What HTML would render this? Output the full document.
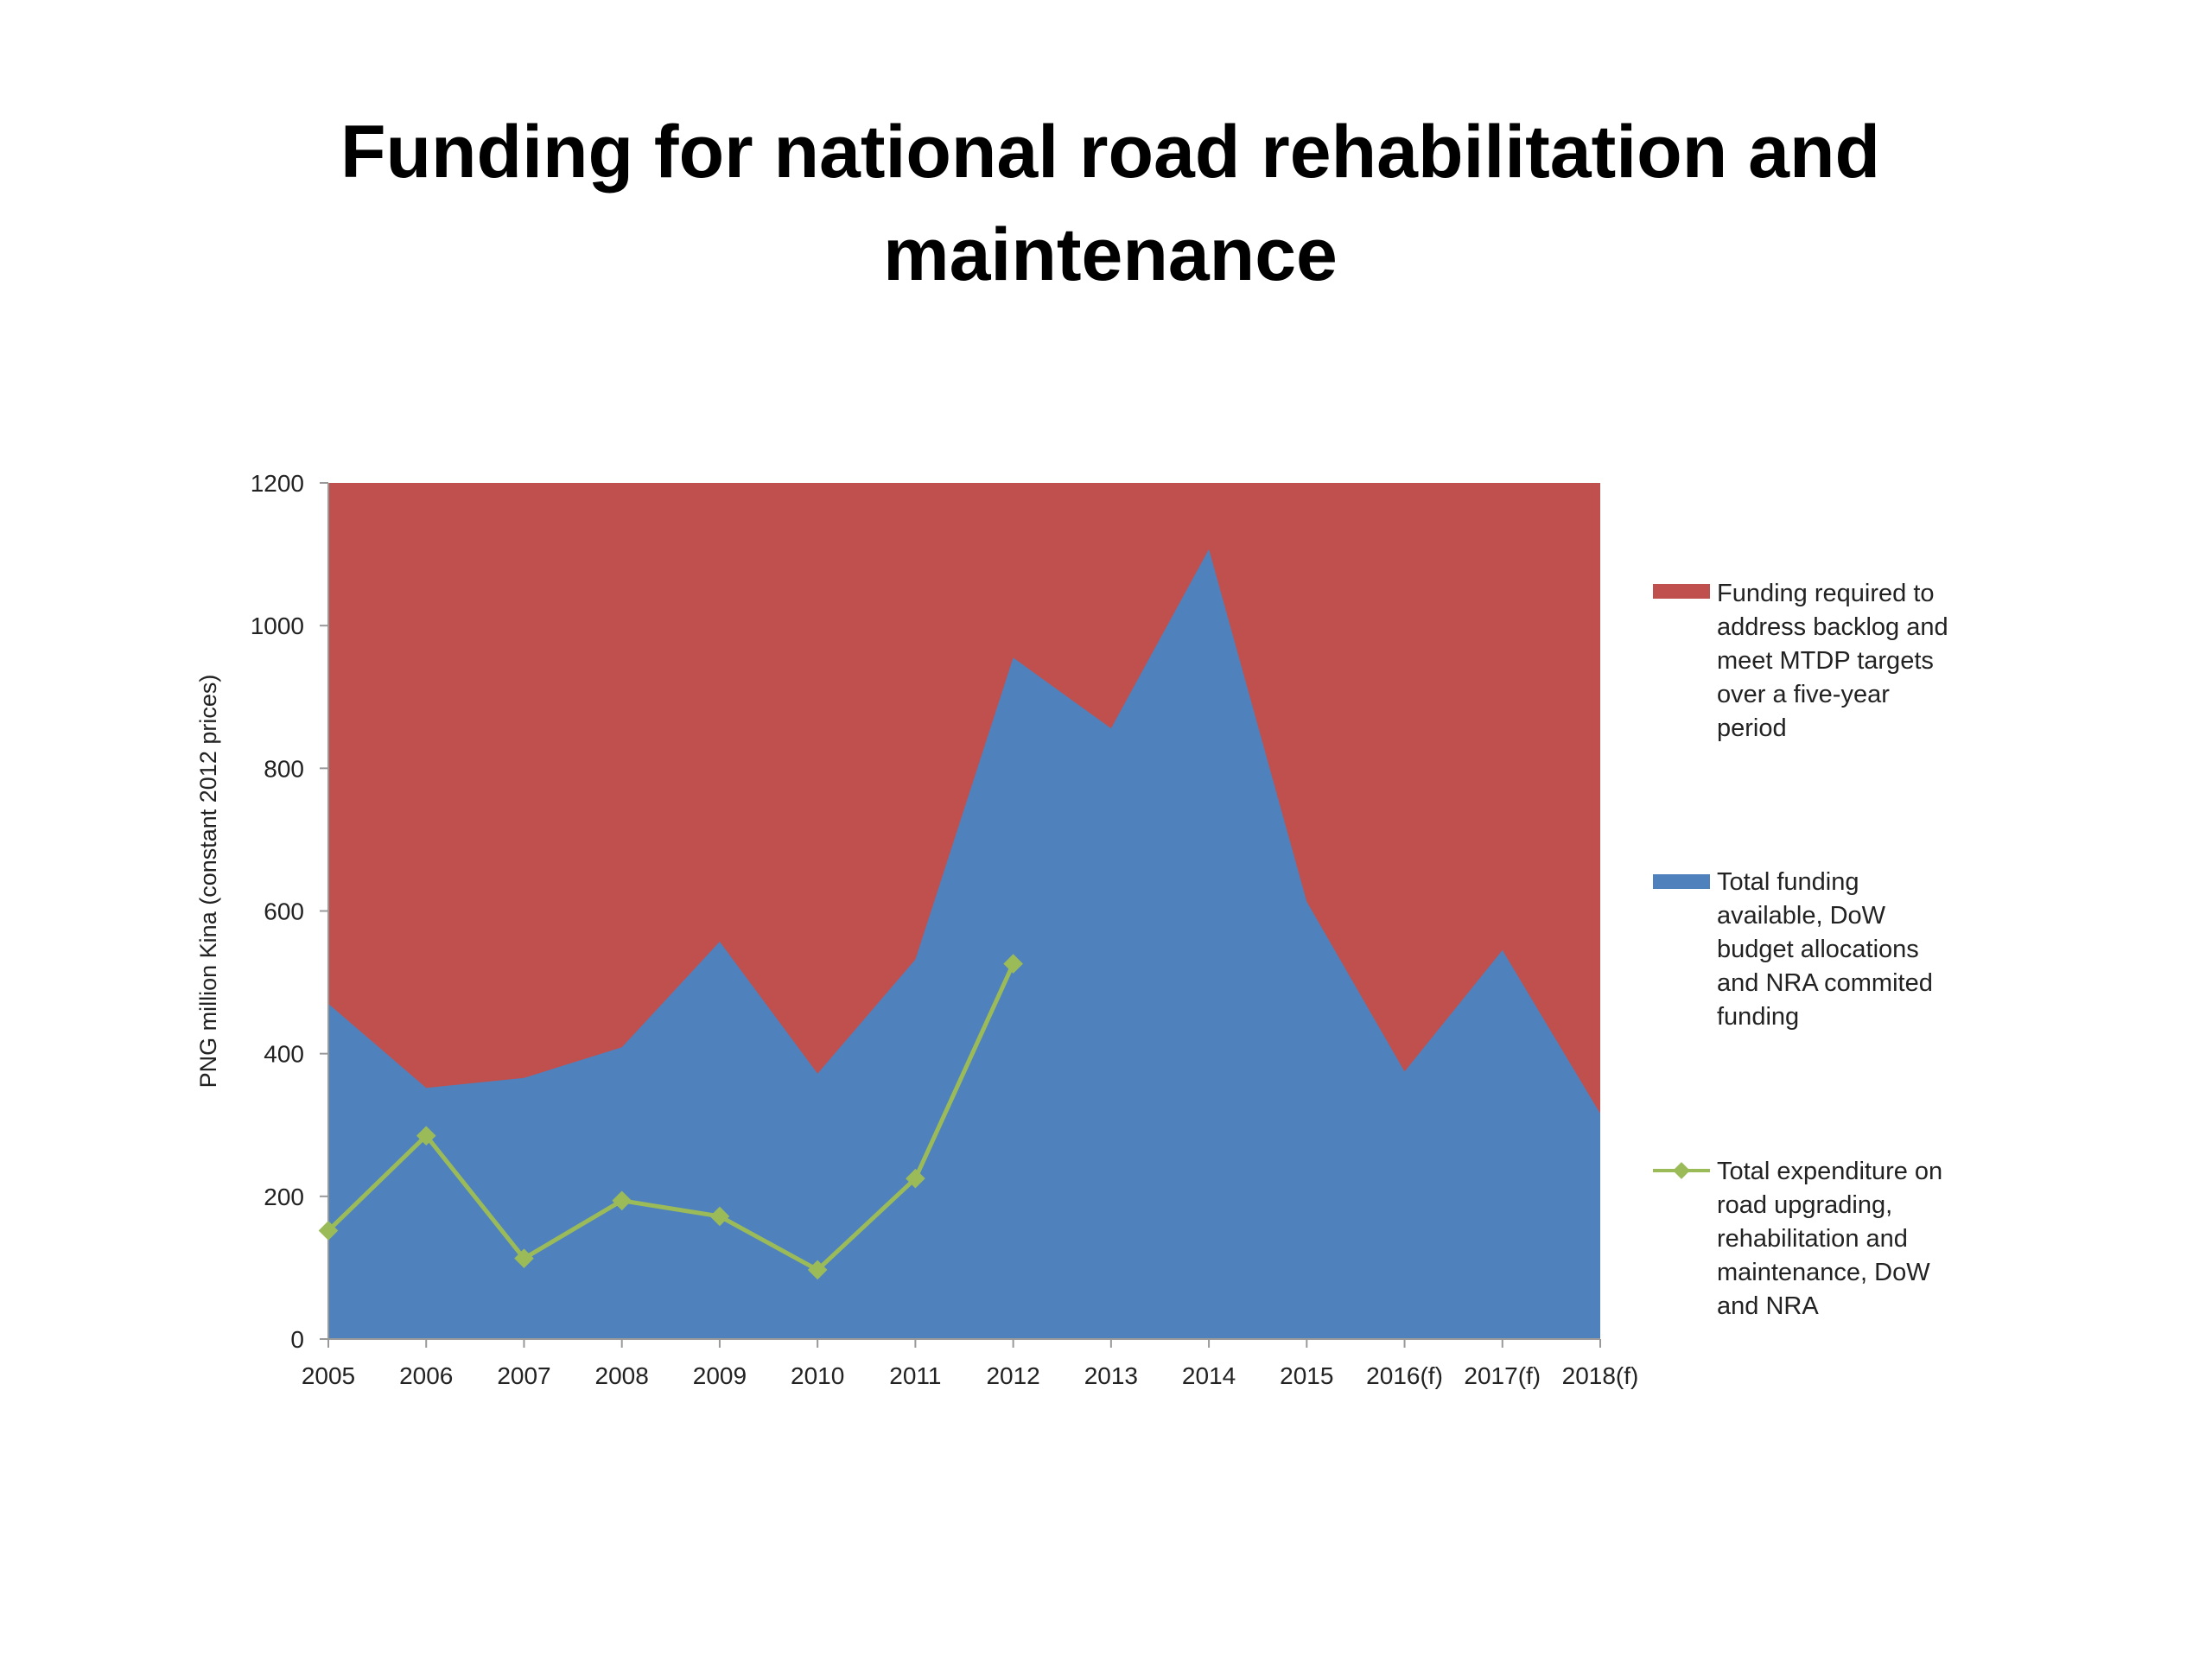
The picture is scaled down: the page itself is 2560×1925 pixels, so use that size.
<!DOCTYPE html>
<html><head><meta charset="utf-8"><style>
body{margin:0;background:#fff;}
svg text{font-family:"Liberation Sans",sans-serif;}
</style></head><body>
<svg width="2560" height="1920" xmlns="http://www.w3.org/2000/svg">
<text x="1285" y="205" font-size="86" font-weight="bold" text-anchor="middle" fill="#000">Funding for national road rehabilitation and</text>
<text x="1285" y="324" font-size="86" font-weight="bold" text-anchor="middle" fill="#000">maintenance</text>
<g id="plot"></g>
<text transform="translate(250,1020) rotate(-90)" font-size="27" text-anchor="middle" fill="#222">PNG million Kina (constant 2012 prices)</text>
<g font-size="29" fill="#222">
<rect x="1913" y="676" width="66" height="17" fill="#C0504D"/>
<text x="1987" y="696">
<tspan x="1987">Funding required to</tspan><tspan x="1987" dy="39">address backlog and</tspan><tspan x="1987" dy="39">meet MTDP targets</tspan><tspan x="1987" dy="39">over a five-year</tspan><tspan x="1987" dy="39">period</tspan></text>
<rect x="1913" y="1012" width="66" height="17" fill="#4F81BD"/>
<text x="1987" y="1030">
<tspan x="1987">Total funding</tspan><tspan x="1987" dy="39">available, DoW</tspan><tspan x="1987" dy="39">budget allocations</tspan><tspan x="1987" dy="39">and NRA commited</tspan><tspan x="1987" dy="39">funding</tspan></text>
<line x1="1913" y1="1355" x2="1979" y2="1355" stroke="#9BBB59" stroke-width="4"/>
<rect x="1939" y="1348" width="14" height="14" fill="#9BBB59" transform="rotate(45 1946 1355)"/>
<text x="1987" y="1365">
<tspan x="1987">Total expenditure on</tspan><tspan x="1987" dy="39">road upgrading,</tspan><tspan x="1987" dy="39">rehabilitation and</tspan><tspan x="1987" dy="39">maintenance, DoW</tspan><tspan x="1987" dy="39">and NRA</tspan></text>
</g>
</svg>
<script>
const categories=["2005","2006","2007","2008","2009","2010","2011","2012","2013","2014","2015","2016(f)","2017(f)","2018(f)"];
const required=[1200,1200,1200,1200,1200,1200,1200,1200,1200,1200,1200,1200,1200,1200];
const available=[470,352,366,409,557,372,532,955,856,1107,613,375,545,316];
const expenditure=[152,285,113,194,172,97,225,526];
const yTicks=[0,200,400,600,800,1000,1200];
const L=380,R=1852,T=559,B=1550,NS="http://www.w3.org/2000/svg";
const x=i=>L+(R-L)*i/(categories.length-1);
const y=v=>B-(B-T)*v/1200;
const g=document.getElementById('plot');
function mk(t,a){const e=document.createElementNS(NS,t);for(const k in a)e.setAttribute(k,a[k]);g.appendChild(e);return e;}
function area(vals,fill,name){let d=`M${x(0)},${B}`;vals.forEach((v,i)=>d+=`L${x(i)},${y(v)}`);d+=`L${x(vals.length-1)},${B}Z`;const p=mk('path',{d:d,fill:fill});

}
area(required,'#C0504D','area-required');
area(available,'#4F81BD','area-available');
const ax=mk('path',{d:`M${L},${T}V${B}H${R}`,fill:'none',stroke:'#999','stroke-width':2});


yTicks.forEach(v=>{mk('line',{x1:L-10,x2:L,y1:y(v),y2:y(v),stroke:'#999','stroke-width':2});
const t=mk('text',{x:L-28,y:y(v)+10,'font-size':28,'text-anchor':'end',fill:'#222'});t.textContent=v;

});
categories.forEach((c,i)=>{mk('line',{x1:x(i),x2:x(i),y1:B,y2:B+10,stroke:'#999','stroke-width':2});
const t=mk('text',{x:x(i),y:B+52,'font-size':28,'text-anchor':'middle',fill:'#222'});t.textContent=c;

});
const ln=mk('polyline',{points:expenditure.map((v,i)=>x(i)+','+y(v)).join(' '),fill:'none',stroke:'#9BBB59','stroke-width':5});


expenditure.forEach((v,i)=>{const m=mk('rect',{x:x(i)-8,y:y(v)-8,width:16,height:16,fill:'#9BBB59',transform:`rotate(45 ${x(i)} ${y(v)})`});

});
</script>
</body></html>
